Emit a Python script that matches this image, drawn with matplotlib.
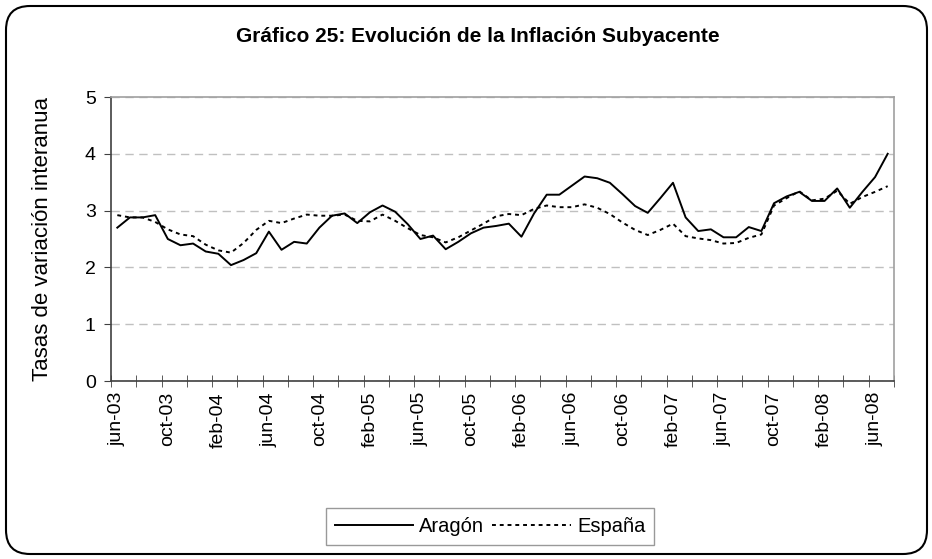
import matplotlib
matplotlib.use("Agg")
import matplotlib.pyplot as plt
from matplotlib.patches import FancyBboxPatch
from matplotlib.transforms import Bbox, TransformedBbox, IdentityTransform

plt.rcParams['font.family'] = ['Liberation Sans', 'DejaVu Sans']

# monthly labels jun-03 .. jul-08
meses = ['ene', 'feb', 'mar', 'abr', 'may', 'jun', 'jul', 'ago', 'sep', 'oct', 'nov', 'dic']
fechas = []
for k in range(62):
    m = (5 + k) % 12
    y = 3 + (5 + k) // 12
    fechas.append("{}-{:02d}".format(meses[m], y))

aragon = [2.70, 2.88, 2.88, 2.92, 2.50, 2.39, 2.42, 2.28, 2.24, 2.04,
          2.13, 2.25, 2.63, 2.31, 2.45, 2.42, 2.70, 2.91, 2.95, 2.78,
          2.97, 3.09, 2.98, 2.76, 2.50, 2.56, 2.32, 2.45, 2.60, 2.70,
          2.73, 2.77, 2.54, 2.95, 3.28, 3.28, 3.44, 3.60, 3.57, 3.49,
          3.29, 3.08, 2.96, 3.22, 3.49, 2.88, 2.64, 2.67, 2.53, 2.53,
          2.71, 2.64, 3.13, 3.25, 3.33, 3.17, 3.17, 3.39, 3.05, 3.33,
          3.59, 4.00]

espana = [2.92, 2.88, 2.88, 2.80, 2.67, 2.58, 2.55, 2.40, 2.30, 2.26,
          2.43, 2.66, 2.82, 2.78, 2.86, 2.93, 2.91, 2.91, 2.93, 2.82,
          2.81, 2.93, 2.82, 2.69, 2.57, 2.53, 2.44, 2.53, 2.65, 2.77,
          2.90, 2.94, 2.92, 3.03, 3.09, 3.06, 3.06, 3.11, 3.05, 2.94,
          2.79, 2.66, 2.57, 2.66, 2.77, 2.55, 2.51, 2.48, 2.42, 2.43,
          2.52, 2.58, 3.09, 3.22, 3.34, 3.18, 3.21, 3.35, 3.12, 3.24,
          3.33, 3.43]

titulo = "Gráfico 25: Evolución de la Inflación Subyacente"

fig = plt.figure(figsize=(9.32, 5.59), dpi=100)
ax = fig.add_axes([111 / 932, 1 - 381 / 559, 783 / 932, 284 / 559])

x = list(range(len(fechas)))
ax.plot(x, aragon, color='black', lw=1.4, label='Aragón')
ax.plot(x, espana, color='black', lw=1.4, linestyle=(0, (2, 2)), label='España')

ax.set_xlim(-0.5, len(fechas) - 0.5)
ax.set_ylim(0, 5)
ax.set_yticks([0, 1, 2, 3, 4, 5])
ax.yaxis.grid(True, color='#c0c0c0', linestyle=(0, (6, 4)), lw=1)
ax.set_axisbelow(True)

ax.set_xticks(x[::4])
ax.set_xticklabels(fechas[::4], rotation=90)
ax.set_xticks([i - 0.5 for i in range(0, len(fechas) + 1, 2)], minor=True)
ax.tick_params(axis='x', which='major', length=0, pad=8, labelsize=14)
ax.tick_params(axis='x', which='minor', length=8, direction='inout', color='#404040')
ax.tick_params(axis='y', length=5, color='#404040', labelsize=14, pad=6)

for s in ['left', 'bottom']:
    ax.spines[s].set_color('#404040')
    ax.spines[s].set_linewidth(1.2)
for s in ['top', 'right']:
    ax.spines[s].set_color('#a0a0a0')
    ax.spines[s].set_linewidth(1.2)

# y label: long, cut off at the top of the plot area like the original
ylab = ax.text(-0.088, 0.0, "Tasas de variación interanual", rotation=90,
               transform=ax.transAxes, ha='center', va='bottom', fontsize=16,
               clip_on=True)
ylab.set_clip_box(TransformedBbox(Bbox([[-0.3, -0.5], [1.0, 1.0]]), ax.transAxes))

fig.text(0.513, 1 - 36 / 559, titulo, ha='center', va='center',
         fontsize=15, fontweight='bold')

leg = fig.legend(loc='center', bbox_to_anchor=(490 / 932, 1 - 526.5 / 559), ncol=2,
                 fontsize=14.5, frameon=True, fancybox=False, handlelength=3.9,
                 handletextpad=0.3, columnspacing=0.4, borderpad=0.45)
leg.get_frame().set_edgecolor('#808080')
leg.get_frame().set_linewidth(1)

borde = FancyBboxPatch((6, 5), 921, 548, boxstyle="round,pad=0,rounding_size=24",
                       transform=IdentityTransform(), fill=False,
                       edgecolor='black', lw=1.5)
fig.patches.append(borde)

fig.savefig("out.png", dpi=100)
